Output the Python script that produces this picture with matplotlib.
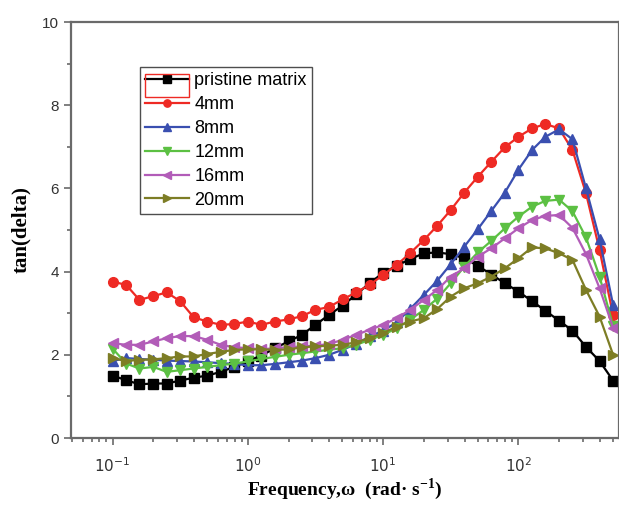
import matplotlib
matplotlib.use("Agg")
import matplotlib.pyplot as plt
from matplotlib.patches import Rectangle
from matplotlib.ticker import LogLocator, MultipleLocator, NullFormatter

freq = [0.1, 0.126, 0.158, 0.2, 0.251, 0.316, 0.398, 0.501, 0.631, 0.794,
        1.0, 1.26, 1.58, 2.0, 2.51, 3.16, 3.98, 5.01, 6.31, 7.94,
        10.0, 12.6, 15.8, 20.0, 25.1, 31.6, 39.8, 50.1, 63.1, 79.4,
        100.0, 126.0, 158.0, 200.0, 251.0, 316.0, 398.0, 501.0]

pristine = [1.50, 1.39, 1.29, 1.31, 1.31, 1.38, 1.45, 1.50, 1.59, 1.71,
            1.85, 1.98, 2.16, 2.32, 2.48, 2.72, 2.96, 3.18, 3.45, 3.72,
            3.97, 4.14, 4.30, 4.44, 4.46, 4.42, 4.32, 4.14, 3.93, 3.72,
            3.52, 3.29, 3.06, 2.82, 2.58, 2.19, 1.85, 1.38]
mm4 = [3.76, 3.68, 3.32, 3.41, 3.50, 3.29, 2.90, 2.80, 2.72, 2.74,
       2.80, 2.72, 2.80, 2.85, 2.93, 3.08, 3.15, 3.33, 3.50, 3.68,
       3.92, 4.16, 4.44, 4.76, 5.10, 5.48, 5.90, 6.28, 6.64, 6.99,
       7.24, 7.44, 7.55, 7.44, 6.92, 5.88, 4.52, 2.95]
mm8 = [1.85, 1.92, 1.90, 1.88, 1.86, 1.85, 1.84, 1.82, 1.80, 1.78,
       1.75, 1.75, 1.78, 1.82, 1.86, 1.92, 2.00, 2.12, 2.26, 2.44,
       2.58, 2.78, 3.10, 3.44, 3.78, 4.18, 4.60, 5.02, 5.46, 5.90,
       6.45, 6.92, 7.24, 7.42, 7.18, 6.00, 4.78, 3.20]
mm12 = [2.15, 1.79, 1.67, 1.71, 1.59, 1.63, 1.67, 1.71, 1.75, 1.79,
        1.84, 1.90, 1.95, 2.00, 2.04, 2.08, 2.12, 2.16, 2.24, 2.36,
        2.48, 2.64, 2.84, 3.08, 3.35, 3.72, 4.12, 4.46, 4.74, 5.04,
        5.32, 5.56, 5.70, 5.73, 5.45, 4.82, 3.88, 2.70]
mm16 = [2.28, 2.24, 2.24, 2.32, 2.40, 2.45, 2.45, 2.36, 2.24, 2.18,
        2.16, 2.13, 2.16, 2.18, 2.20, 2.22, 2.26, 2.36, 2.48, 2.60,
        2.72, 2.88, 3.08, 3.32, 3.56, 3.88, 4.08, 4.36, 4.56, 4.80,
        5.04, 5.24, 5.34, 5.36, 5.05, 4.42, 3.60, 2.65]
mm20 = [1.92, 1.85, 1.88, 1.89, 1.92, 1.96, 1.96, 2.02, 2.07, 2.12,
        2.13, 2.13, 2.12, 2.13, 2.18, 2.20, 2.22, 2.24, 2.30, 2.40,
        2.52, 2.68, 2.80, 2.88, 3.10, 3.40, 3.60, 3.72, 3.88, 4.08,
        4.32, 4.58, 4.56, 4.44, 4.28, 3.56, 2.92, 2.00]

labels = ["pristine matrix", "4mm", "8mm", "12mm", "16mm", "20mm"]
series = [pristine, mm4, mm8, mm12, mm16, mm20]
colors = ["#000000", "#ee2a24", "#3a4fb0", "#5cc043", "#b25cb8", "#7d7d25"]
markers = ["s", "o", "^", "v", "<", ">"]

fig = plt.figure(figsize=(6.19, 5.08), dpi=100)
ax = fig.add_axes([71/619, 70/508, 1 - 71/619, (438-22)/508])

for y, lab, c, m in zip(series, labels, colors, markers):
    ax.plot(freq, y, color=c, marker=m, markersize=7, lw=1.6,
            markeredgecolor=c, label=lab)

ax.set_xscale("log")
ax.set_xlim(0.0493, 554)
ax.set_ylim(0, 10)
ax.xaxis.set_major_locator(LogLocator(base=10, numticks=10))
ax.xaxis.set_minor_locator(LogLocator(base=10, subs=range(2, 10), numticks=20))
ax.xaxis.set_minor_formatter(NullFormatter())
ax.yaxis.set_major_locator(MultipleLocator(2))
ax.yaxis.set_minor_locator(MultipleLocator(1))

spine_c = "#6a6a6a"
for s in ax.spines.values():
    s.set_color(spine_c)
    s.set_linewidth(1.6)
ax.tick_params(which="both", direction="out", color=spine_c, width=1.2,
               labelcolor="#333333")
ax.tick_params(which="major", length=5, labelsize=11)
ax.tick_params(axis="x", which="major", pad=8)
ax.tick_params(which="minor", length=3)
for t in ax.get_yticklabels():
    t.set_fontfamily("Liberation Sans")

ax.set_ylabel("tan(delta)", fontfamily="Liberation Serif", fontweight="bold",
              fontsize=15, labelpad=8)
ax.set_xlabel("Frequency,\u03c9  (rad\u00b7 s$^{\\mathregular{-1}}$)",
              fontfamily="Liberation Serif", fontweight="bold", fontsize=14,
              labelpad=1)

leg = ax.legend(loc="upper left", bbox_to_anchor=((140-71)/548, (438-67)/416),
                frameon=True, fancybox=False, edgecolor="#222222",
                prop={"family": "Liberation Sans", "size": 13},
                handlelength=2.4, handletextpad=0.3, labelspacing=0.38,
                borderpad=0.3, borderaxespad=0.0, markerscale=0.75)
leg.get_frame().set_linewidth(1.0)

fig.patches.append(Rectangle((145/619, (508-97)/508), 44/619, 23/508,
                             transform=fig.transFigure, fill=False,
                             edgecolor="#ee2a24", lw=1.0))

fig.savefig("out.png", dpi=100)
